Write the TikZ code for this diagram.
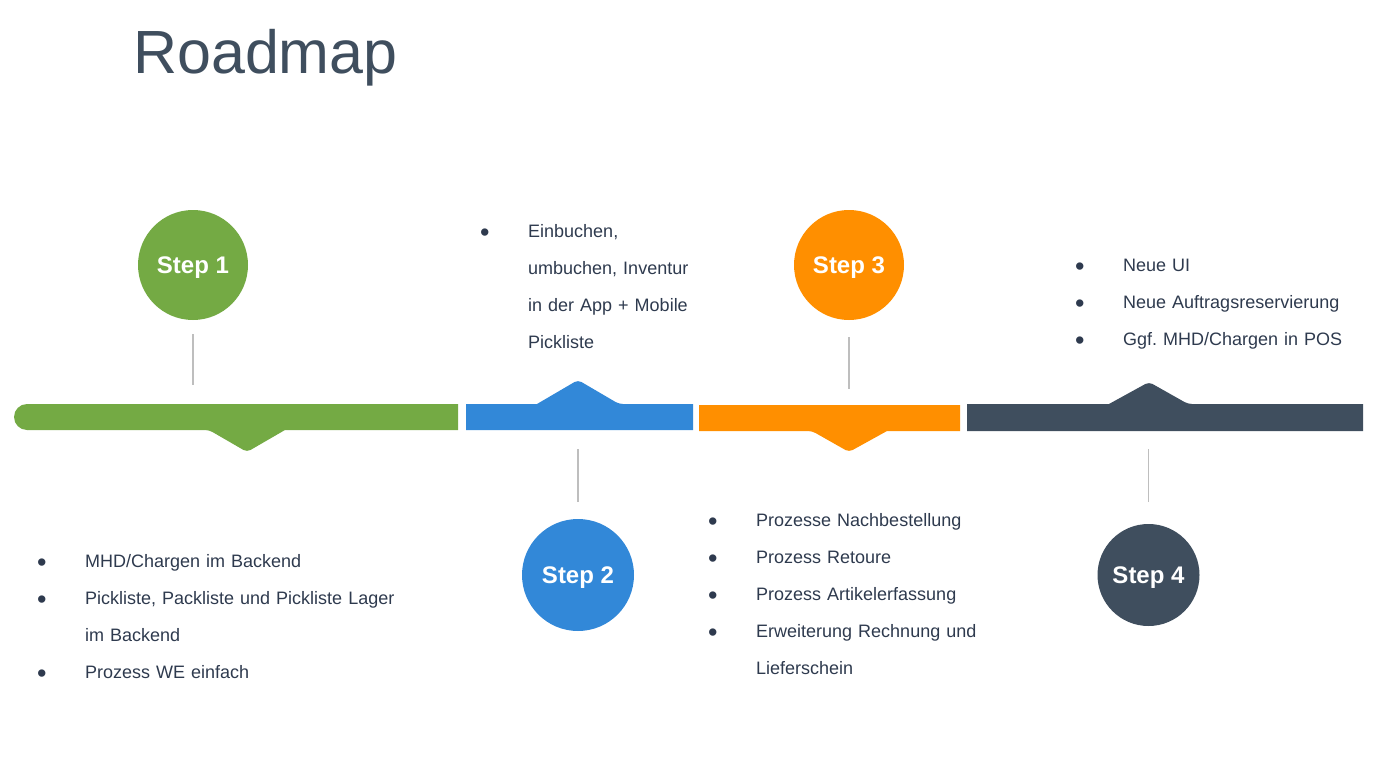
\documentclass[tikz,border=0pt]{standalone}
\usepackage{fontspec}
\setmainfont{Liberation Sans}
\usetikzlibrary{positioning}

\definecolor{cgreen}{RGB}{116,170,68}
\definecolor{cblue}{RGB}{50,136,216}
\definecolor{corange}{RGB}{255,143,0}
\definecolor{cdark}{RGB}{63,78,94}
\definecolor{cstem}{RGB}{190,190,190}
\definecolor{ctext}{RGB}{46,58,78}

\newcommand{\bul}{\makebox[46pt][l]{\hspace*{-2pt}\raisebox{-4pt}{\fontsize{27}{37}\selectfont •}}}
\newcommand{\hang}{\hspace*{46pt}}

\tikzset{
  stepnode/.style={circle, inner sep=0pt, outer sep=0pt, minimum size=110pt,
    text=white, text depth=0pt, font=\fontsize{24}{28}\selectfont\bfseries},
  stem/.style={draw=cstem, line width=1.5pt},
  itemlist/.style={anchor=base west, inner sep=0pt, text width=420pt, align=left,
    text=ctext, font=\fontsize{18}{37}\selectfont\frenchspacing}
}

\begin{document}
\begin{tikzpicture}[x=1pt,y=-1pt]
    \useasboundingbox (0,0) rectangle (1398,757);
    % title
    \node[anchor=base west, inner sep=0pt, text=cdark, font=\fontsize{61}{70}\selectfont] (title) at (133,74) {Roadmap};

    % timeline bar
    \fill[cgreen] (27,417) circle (13);
    \fill[cgreen] (27,404) -- (458,404) -- (458,430) -- (285,430) [rounded corners=4pt] -- (247,452) -- (209,430) [sharp corners] -- (27,430) -- cycle;
    \fill[cblue] (466,430) -- (466,404) -- (537,404) [rounded corners=4pt] -- (578,380) -- (619,404) [sharp corners] -- (693,404) -- (693,430) -- cycle;
    \fill[corange] (699,405) -- (960,405) -- (960,431) -- (887,431) [rounded corners=4pt] -- (849,452) -- (812,431) [sharp corners] -- (699,431) -- cycle;
    \fill[cdark] (967,431) -- (967,404) -- (1109,404) [rounded corners=4pt] -- (1149,382) -- (1188,404) [sharp corners] -- (1363,404) -- (1363,431) -- cycle;

    \coordinate (b1) at (193,404);
    \coordinate (b2) at (578,430);
    \coordinate (b3) at (849,405);
    \coordinate (b4) at (1148.5,431);

    % steps
    \node[stepnode, fill=cgreen] (s1) at (193,265) {Step 1};
    \node[stepnode, fill=cblue, minimum size=112pt] (s2) at (578,575) {Step 2};
    \node[stepnode, fill=corange] (s3) at (849,265) {Step 3};
    \node[stepnode, fill=cdark, minimum size=102pt] (s4) at (1148.5,575) {Step 4};

    \draw[stem, shorten <=14pt, shorten >=19pt] (s1) -- (b1);
    \draw[stem, shorten <=17pt, shorten >=19pt] (s2) -- (b2);
    \draw[stem, shorten <=17pt, shorten >=16pt] (s3) -- (b3);
    \draw[stem, shorten <=22pt, shorten >=18pt] (s4) -- (b4);

    % lists
    \node[itemlist] (l1) at (39,567) {\bul MHD/Chargen im Backend\\
      \bul Pickliste, Packliste und Pickliste Lager\\
      \hang im Backend\\
      \bul Prozess WE einfach};
    \node[itemlist] (l2) at (482,237) {\bul Einbuchen,\\
      \hang umbuchen, Inventur\\
      \hang in der App + Mobile\\
      \hang Pickliste};
    \node[itemlist] (l3) at (710,526) {\bul Prozesse Nachbestellung\\
      \bul Prozess Retoure\\
      \bul Prozess Artikelerfassung\\
      \bul Erweiterung Rechnung und\\
      \hang Lieferschein};
    \node[itemlist, text width=300pt] (l4) at (1077,271) {\bul Neue UI\\
      \bul Neue Auftragsreservierung\\
      \bul Ggf. MHD/Chargen in POS};
\end{tikzpicture}
\end{document}
